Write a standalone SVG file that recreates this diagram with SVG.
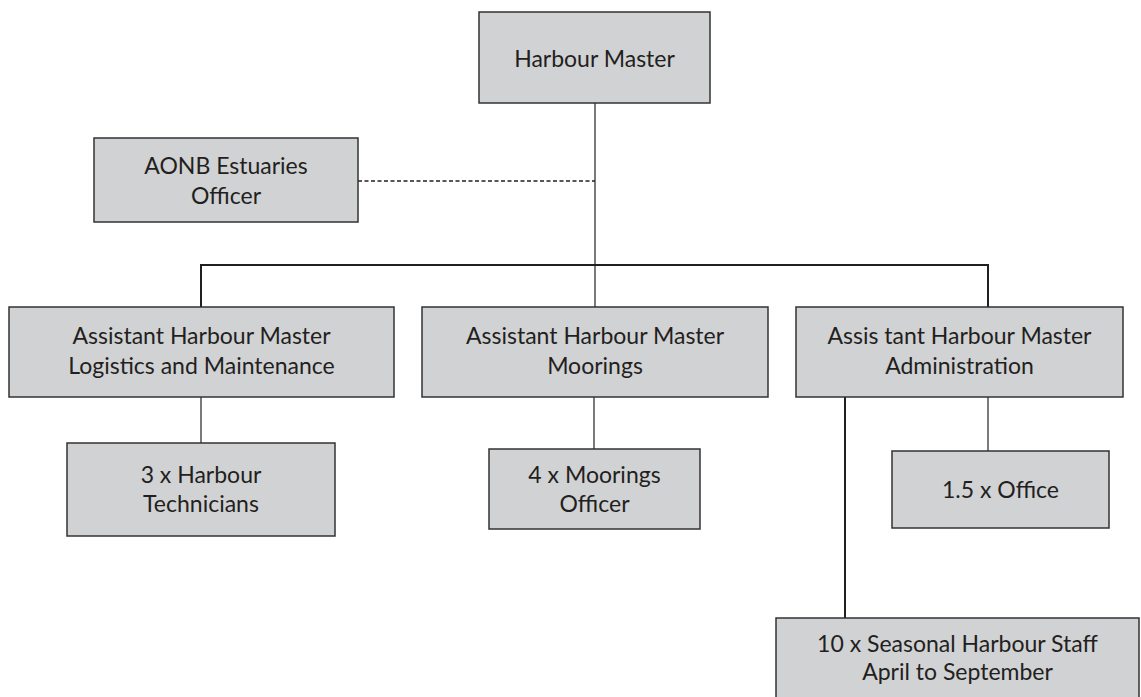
<svg xmlns="http://www.w3.org/2000/svg" width="1141" height="697" viewBox="0 0 1141 697">
<style>
.box{fill:#d1d2d4;stroke:#333;stroke-width:1.5}
.t{font-family:Lato,"Open Sans",sans-serif;font-size:23px;fill:#231f20;text-anchor:middle}
.thin{stroke:#333;stroke-width:1.3;fill:none}
.thick{stroke:#231f20;stroke-width:2;fill:none}
.dash{stroke:#231f20;stroke-width:1.5;stroke-dasharray:4 2.5;fill:none}
</style>
<rect width="1141" height="697" fill="#fff"/>
<g id="connectors">
<line class="thin" x1="595" y1="103" x2="595" y2="307"/>
<line class="dash" x1="358" y1="181" x2="595" y2="181"/>
<polyline class="thick" points="201,307 201,265 988,265 988,307"/>
<line class="thin" x1="201" y1="397" x2="201" y2="443"/>
<line class="thin" x1="594" y1="397" x2="594" y2="449"/>
<line class="thin" x1="988" y1="397" x2="988" y2="451"/>
<line class="thick" x1="845" y1="397" x2="845" y2="618"/>
</g>
<g id="harbour-master"><rect class="box" x="479" y="12" width="231" height="91"/><text class="t" x="594.5" y="67">Harbour Master</text></g>
<g id="aonb"><rect class="box" x="94" y="138" width="264" height="84"/><text class="t" x="226" y="174">AONB Estuaries</text><text class="t" x="226" y="204">Officer</text></g>
<g id="ahm-logistics"><rect class="box" x="9" y="307" width="385" height="90"/><text class="t" x="201.5" y="344">Assistant Harbour Master</text><text class="t" x="201.5" y="374">Logistics and Maintenance</text></g>
<g id="ahm-moorings"><rect class="box" x="422" y="307" width="346" height="90"/><text class="t" x="595" y="344">Assistant Harbour Master</text><text class="t" x="595" y="374">Moorings</text></g>
<g id="ahm-admin"><rect class="box" x="796" y="307" width="327" height="90"/><text class="t" x="959.5" y="344">Assis tant Harbour Master</text><text class="t" x="959.5" y="374">Administration</text></g>
<g id="technicians"><rect class="box" x="67" y="443" width="268" height="93"/><text class="t" x="201" y="483">3 x Harbour</text><text class="t" x="201" y="512">Technicians</text></g>
<g id="moorings-officer"><rect class="box" x="489" y="449" width="211" height="80"/><text class="t" x="594.5" y="483">4 x Moorings</text><text class="t" x="594.5" y="512">Officer</text></g>
<g id="office"><rect class="box" x="892" y="451" width="217" height="77"/><text class="t" x="1000.5" y="498">1.5 x Office</text></g>
<g id="seasonal"><rect class="box" x="776" y="618" width="363" height="90"/><text class="t" x="957.5" y="652">10 x Seasonal Harbour Staff</text><text class="t" x="957.5" y="680">April to September</text></g>
</svg>
